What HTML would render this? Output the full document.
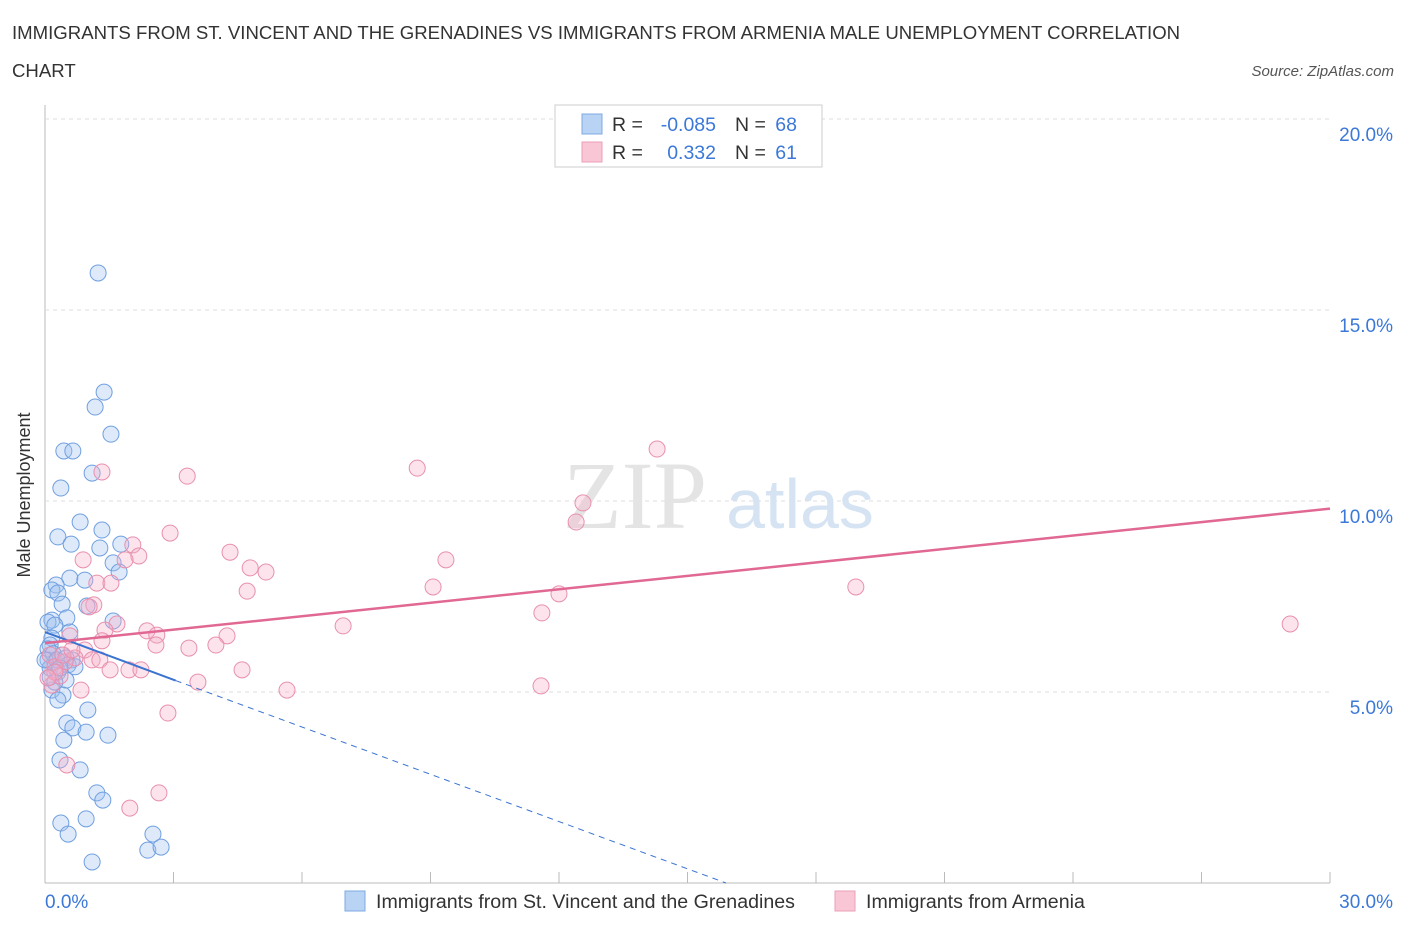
<!DOCTYPE html>
<html><head><meta charset="utf-8">
<style>
body{margin:0;background:#fff;width:1406px;height:930px;overflow:hidden;font-family:"Liberation Sans",sans-serif;}
svg{position:absolute;left:0;top:0}
</style></head>
<body>
<svg id="chart" width="1406" height="930">
<text x="12" y="39" font-size="18.6" fill="#333">IMMIGRANTS FROM ST. VINCENT AND THE GRENADINES VS IMMIGRANTS FROM ARMENIA MALE UNEMPLOYMENT CORRELATION</text>
<text x="12" y="77" font-size="18.6" fill="#333">CHART</text>
<text x="1394" y="76" font-size="15" fill="#555" font-style="italic" text-anchor="end">Source: ZipAtlas.com</text>
<text x="30" y="495" font-size="18" fill="#333" text-anchor="middle" transform="rotate(-90 30 495)">Male Unemployment</text>
<g id="grid"></g>
<text x="635" y="528" font-size="96" fill="#e4e4e4" font-family="Liberation Serif,serif" text-anchor="middle">ZIP</text>
<text x="800" y="528" font-size="70" fill="#d6e3f3" text-anchor="middle">atlas</text>
<g id="pts"></g>
<g id="trend"></g>
<g>
<rect x="555" y="105" width="267" height="62" fill="#fff" stroke="#ccc"/>
<rect x="582" y="114" width="20" height="20" fill="#b9d3f5" stroke="#7fa9e0"/>
<text x="612" y="131" font-size="19.5" fill="#333">R =</text>
<text x="716" y="131" font-size="19.5" fill="#3b78d8" text-anchor="end">-0.085</text>
<text x="735" y="131" font-size="19.5" fill="#333">N =</text>
<text x="797" y="131" font-size="19.5" fill="#3b78d8" text-anchor="end">68</text>
<rect x="582" y="142" width="20" height="20" fill="#f8c6d5" stroke="#eba0b8"/>
<text x="612" y="159" font-size="19.5" fill="#333">R =</text>
<text x="716" y="159" font-size="19.5" fill="#3b78d8" text-anchor="end">0.332</text>
<text x="735" y="159" font-size="19.5" fill="#333">N =</text>
<text x="797" y="159" font-size="19.5" fill="#3b78d8" text-anchor="end">61</text>
</g>
<g>
<rect x="345" y="891" width="20" height="20" fill="#b9d3f5" stroke="#7fa9e0"/>
<text x="376" y="908" font-size="19.6" fill="#333">Immigrants from St. Vincent and the Grenadines</text>
<rect x="835" y="891" width="20" height="20" fill="#f8c6d5" stroke="#eba0b8"/>
<text x="866" y="908" font-size="19.6" fill="#333">Immigrants from Armenia</text>
</g>
</svg>
<script>
const blueX=[1.24,1.38,1.17,1.54,0.44,0.65,1.1,0.37,0.82,0.3,1.33,0.61,1.28,1.77,1.59,1.73,0.58,0.93,0.26,0.16,0.3,0.4,0.98,1.59,0.16,0.51,0.07,0.23,0.58,0.16,0.12,0.07,0.23,0.4,0.63,0.12,0.3,0.49,0.16,0.42,0.3,1.0,0.51,0.65,0.96,1.47,0.44,0.35,0.82,1.21,1.35,0.37,0.96,0.54,2.52,1.1,2.4,2.71,0.07,0.19,0.0,0.28,0.49,0.54,0.12,0.23,0.35,0.7];
const blueY=[15.97,12.85,12.46,11.75,11.31,11.31,10.73,10.34,9.45,9.06,9.24,8.87,8.77,8.87,8.38,8.14,7.98,7.93,7.8,7.67,7.59,7.3,7.25,6.86,6.88,6.94,6.83,6.75,6.57,6.41,6.23,5.84,5.79,5.97,5.84,5.63,5.52,5.31,5.05,4.92,4.79,4.53,4.19,4.06,3.95,3.87,3.74,3.22,2.96,2.36,2.17,1.57,1.68,1.28,1.28,0.55,0.86,0.94,6.13,6.0,5.84,5.84,5.89,5.71,5.39,5.26,5.63,5.66];
const pinkX=[14.29,8.69,3.32,1.33,12.56,12.4,2.92,4.32,2.05,2.19,0.89,9.36,1.87,4.79,5.16,9.06,4.72,18.93,1.21,1.54,12.0,11.6,1.14,1.03,6.96,29.07,1.68,1.4,2.38,2.61,4.25,1.33,3.36,3.99,2.59,0.58,0.93,1.1,0.7,0.47,0.12,0.23,1.96,2.24,4.6,3.57,5.65,11.58,0.84,0.16,0.35,2.87,0.51,2.66,1.98,0.42,0.63,0.23,0.07,1.28,1.52];
const pinkY=[11.36,10.86,10.65,10.76,9.95,9.45,9.16,8.66,8.85,8.56,8.46,8.46,8.46,8.25,8.14,7.75,7.64,7.75,7.85,7.85,7.57,7.07,7.28,7.23,6.73,6.78,6.78,6.62,6.6,6.49,6.47,6.34,6.15,6.23,6.23,6.47,6.1,5.84,5.89,5.79,5.97,5.66,5.58,5.58,5.58,5.26,5.05,5.16,5.05,5.18,5.42,4.45,3.09,2.36,1.96,5.97,6.1,5.52,5.37,5.84,5.58];
const yTicks=[5,10,15,20];
const X0=45,X1=1330,Y0=883,PY=38.2;
const sx=v=>X0+(X1-X0)*v/30, sy=v=>Y0-v*PY;
const NS='http://www.w3.org/2000/svg';
function mk(t,a,p){const e=document.createElementNS(NS,t);for(const k in a)e.setAttribute(k,a[k]);p.appendChild(e);return e;}
const g=document.getElementById('grid');
mk('line',{x1:45,y1:105,x2:45,y2:883,stroke:'#bbb'},g);
mk('line',{x1:45,y1:883,x2:1330,y2:883,stroke:'#bbb'},g);
for(let i=0;i<=10;i++){const l=mk('line',{x1:sx(i*3),y1:883,x2:sx(i*3),y2:872,stroke:'#bbb'},g);}
yTicks.forEach(v=>{
 const l=mk('line',{x1:45,y1:sy(v),x2:1330,y2:sy(v),stroke:'#ddd','stroke-dasharray':'4,4'},g);
 
 
 const t=mk('text',{x:1393,y:sy(v)+22,'font-size':19,fill:'#3b78d8','text-anchor':'end'},g);t.textContent=v.toFixed(1)+'%';
 
 
});
let t=mk('text',{x:45,y:908,'font-size':19,fill:'#3b78d8'},g);t.textContent='0.0%';


t=mk('text',{x:1393,y:908,'font-size':19,fill:'#3b78d8','text-anchor':'end'},g);t.textContent='30.0%';


const p=document.getElementById('pts');
blueX.forEach((x,i)=>{const c=mk('circle',{cx:sx(x),cy:sy(blueY[i]),r:8,fill:'rgba(160,195,240,0.35)',stroke:'#6f9fe0','stroke-width':1},p);

});
pinkX.forEach((x,i)=>{const c=mk('circle',{cx:sx(x),cy:sy(pinkY[i]),r:8,fill:'rgba(245,175,200,0.35)',stroke:'#e890ae','stroke-width':1},p);

});
const tr=document.getElementById('trend');
let l=mk('line',{x1:sx(0),y1:sy(6.57),x2:sx(3.05),y2:sy(5.3),stroke:'#3a74d0','stroke-width':2},tr);


l=mk('line',{x1:sx(3.05),y1:sy(5.3),x2:sx(15.9),y2:sy(0),stroke:'#3a74d0','stroke-width':1,'stroke-dasharray':'6,5'},tr);


l=mk('line',{x1:sx(0),y1:sy(6.28),x2:sx(30),y2:sy(9.8),stroke:'#e06892','stroke-width':2.5},tr);


</script>
</body></html>
